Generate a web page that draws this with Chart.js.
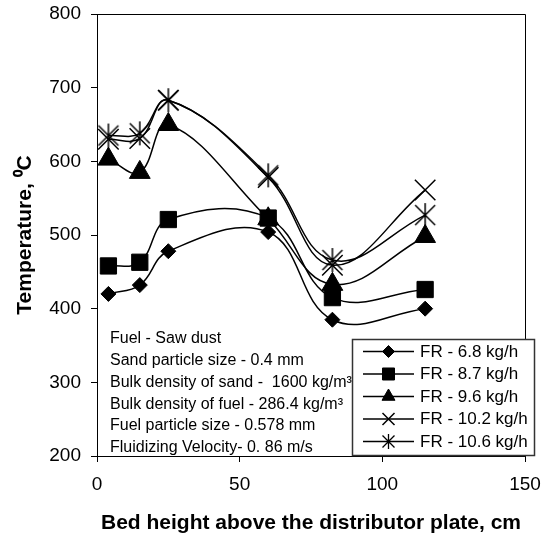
<!DOCTYPE html>
<html><head><meta charset="utf-8">
<script src="https://cdn.jsdelivr.net/npm/chart.js@4"></script>
<style>html,body{margin:0;padding:0;background:#fff;}</style>
</head><body>
<canvas id="c" width="545" height="539"></canvas>
<script>
// ---- data ----
const heights = [4, 15, 25, 60, 82.5, 115];
const fr68  = [420, 432, 478, 504, 385, 400];
const fr87  = [458, 463, 521, 523, 415, 426];
const fr96  = [603, 585, 650, 522, 433, 498];
const fr102 = [630, 631, 683, 578, 459, 561];
const fr106 = [635, 638, 683, 581, 466, 527];
const seriesLabels = ['FR - 6.8 kg/h', 'FR - 8.7 kg/h', 'FR - 9.6 kg/h', 'FR - 10.2 kg/h', 'FR - 10.6 kg/h'];
const xTicks = [0, 50, 100, 150];
const yTicks = [200, 300, 400, 500, 600, 700, 800];
const notes = [
  'Fuel - Saw dust',
  'Sand particle size - 0.4 mm',
  'Bulk density of sand -  1600 kg/m\u00B3',
  'Bulk density of fuel - 286.4 kg/m\u00B3',
  'Fuel particle size - 0.578 mm',
  'Fluidizing Velocity- 0. 86 m/s'
];
const xTitle = 'Bed height above the distributor plate, cm';
const yTitle = 'Temperature, \u2070C';

const FONT = "'Liberation Sans', Arial, sans-serif";

function makeAsterisk(half, vhalf, lw) {
  const s = Math.ceil(Math.max(half, vhalf) * 2 + 4);
  const cv = document.createElement('canvas');
  cv.width = s; cv.height = s;
  const g = cv.getContext('2d');
  const c = s / 2;
  g.strokeStyle = '#000'; g.lineWidth = lw;
  g.beginPath();
  g.moveTo(c - half, c - half); g.lineTo(c + half, c + half);
  g.moveTo(c + half, c - half); g.lineTo(c - half, c + half);
  g.moveTo(c, c - vhalf); g.lineTo(c, c + vhalf);
  g.stroke();
  return cv;
}
const astBig = makeAsterisk(10, 12, 1.5);
const astSmall = makeAsterisk(6, 7.5, 1.3);

const seriesVals = [fr68, fr87, fr96, fr102, fr106];
const styles = [
  {pointStyle: 'rectRot', pointRadius: 7.5, pointBorderWidth: 1, legendRadius: 6},
  {pointStyle: 'rect', pointRadius: 11.5, pointBorderWidth: 1, legendRadius: 8.5},
  {pointStyle: 'triangle', pointRadius: 12, pointBorderWidth: 1, legendRadius: 7.5},
  {pointStyle: 'crossRot', pointRadius: 14.5, pointBorderWidth: 1.5, legendRadius: 8.5},
  {pointStyle: astBig, pointRadius: 12, pointBorderWidth: 1.5, legendRadius: 8, legendStyle: astSmall}
];

const datasets = seriesVals.map((vals, i) => ({
  label: seriesLabels[i],
  data: heights.map((x, j) => ({x: x, y: vals[j]})),
  borderColor: '#000',
  backgroundColor: '#000',
  pointBackgroundColor: '#000',
  pointBorderColor: '#000',
  borderWidth: 1.5,
  pointStyle: styles[i].pointStyle,
  pointRadius: styles[i].pointRadius,
  pointHoverRadius: styles[i].pointRadius,
  pointBorderWidth: styles[i].pointBorderWidth,
  tension: 0.4,
  fill: false
}));

const framePlugin = {
  id: 'frame',
  afterDraw(chart) {
    const ctx = chart.ctx;
    const a = chart.chartArea;
    ctx.save();
    // top and right borders of the plot area
    ctx.strokeStyle = '#000';
    ctx.lineWidth = 1;
    ctx.beginPath();
    ctx.moveTo(a.left, a.top + 0.5);
    ctx.lineTo(a.right + 0.5, a.top + 0.5);
    ctx.lineTo(a.right + 0.5, a.bottom);
    ctx.stroke();

    // notes text block
    ctx.fillStyle = '#000';
    ctx.font = '16px ' + FONT;
    ctx.textBaseline = 'middle';
    ctx.textAlign = 'left';
    const nx = 110, ny0 = 339, nstep = 21.75;
    notes.forEach((t, i) => ctx.fillText(t, nx, ny0 + i * nstep));

    // legend box
    const bx = 352, by = 339, bw = 183, bh = 117;
    ctx.fillStyle = '#fff';
    ctx.fillRect(bx, by, bw, bh);
    ctx.strokeStyle = '#333';
    ctx.lineWidth = 1.5;
    ctx.strokeRect(bx + 0.5, by + 0.5, bw - 1, bh - 1);

    const rowY0 = 351.5, rowStep = 22.5;
    chart.data.datasets.forEach((ds, i) => {
      const y = rowY0 + i * rowStep;
      ctx.strokeStyle = '#000';
      ctx.lineWidth = 1.5;
      ctx.beginPath();
      ctx.moveTo(363, y); ctx.lineTo(414, y);
      ctx.stroke();
      ctx.fillStyle = '#000';
      ctx.strokeStyle = '#000';
      ctx.lineWidth = styles[i].pointBorderWidth;
      const ps = styles[i].legendStyle || styles[i].pointStyle;
      Chart.helpers.drawPoint(ctx, {pointStyle: ps, radius: styles[i].legendRadius, rotation: 0, borderWidth: styles[i].pointBorderWidth}, 388.5, y);
      ctx.fillStyle = '#000';
      ctx.font = '17px ' + FONT;
      ctx.textBaseline = 'middle';
      ctx.textAlign = 'left';
      ctx.fillText(ds.label, 420, y + 0.5);
    });
    ctx.restore();
  }
};

function zeroPad(s) { s.paddingTop = 0; s.paddingBottom = 0; s.paddingLeft = 0; s.paddingRight = 0; }

new Chart(document.getElementById('c'), {
  type: 'line',
  data: {datasets: datasets},
  plugins: [framePlugin],
  options: {
    responsive: false,
    animation: false,
    devicePixelRatio: 1,
    layout: {autoPadding: false, padding: {left: 0, top: 14, right: 20, bottom: 0}},
    plugins: {legend: {display: false}, tooltip: {enabled: false}},
    scales: {
      x: {
        type: 'linear', min: 0, max: 150,
        afterFit(s) { s.height = 83; zeroPad(s); },
        afterBuildTicks(s) { s.ticks = xTicks.map(v => ({value: v})); },
        grid: {display: true, drawOnChartArea: false, drawTicks: true, tickLength: 6, color: '#000', lineWidth: 1},
        border: {display: true, color: '#000', width: 1},
        ticks: {color: '#000', font: {family: FONT, size: 19}, padding: 11, maxRotation: 0},
        title: {display: true, text: xTitle, color: '#000', font: {family: FONT, size: 21, weight: 'bold'}, padding: {top: 0, bottom: 3}}
      },
      y: {
        type: 'linear', min: 200, max: 800,
        afterFit(s) { s.width = 97; zeroPad(s); },
        afterBuildTicks(s) { s.ticks = yTicks.map(v => ({value: v})); },
        grid: {display: true, drawOnChartArea: false, drawTicks: true, tickLength: 6, color: '#000', lineWidth: 1},
        border: {display: true, color: '#000', width: 1},
        ticks: {color: '#000', font: {family: FONT, size: 19}, padding: 10},
        title: {display: true, text: yTitle, color: '#000', font: {family: FONT, size: 21, weight: 'bold'}, padding: {top: 13, bottom: 0}}
      }
    }
  }
});
</script>
</body></html>
